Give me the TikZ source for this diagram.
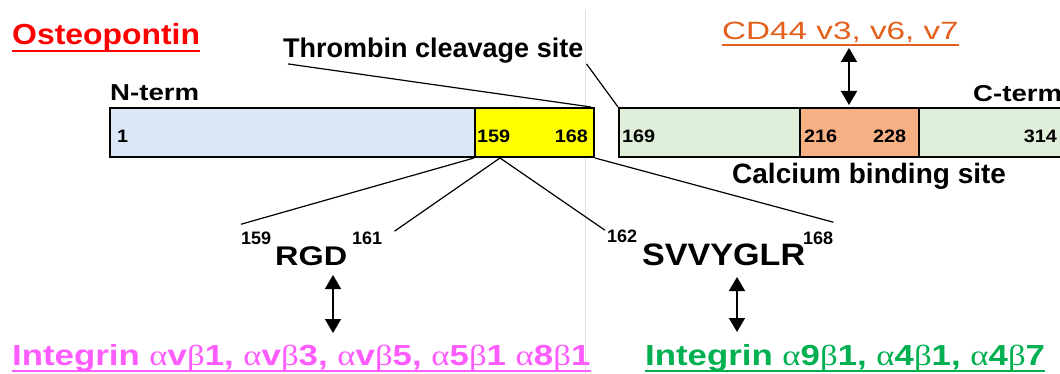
\documentclass[tikz,border=0pt]{standalone}
\usepackage{fontspec}
\setmainfont{Liberation Sans}
\newfontfamily\plainsans{Liberation Sans}
\newfontfamily\widesans{Liberation Sans}[FakeStretch=1.1]
\newfontfamily\widersans{Liberation Sans}[FakeStretch=1.2]
\newfontfamily\widestsans{Liberation Sans}[FakeStretch=1.33]
\newfontfamily\greekserif{Liberation Serif}[FakeStretch=1.2]
\newcommand{\alp}{{\greekserif\mdseries α}}
\newcommand{\bet}{{\greekserif\mdseries β}}
\usetikzlibrary{arrows.meta}

\definecolor{ntermblue}{HTML}{DAE8F6}
\definecolor{thrombyellow}{HTML}{FFFF00}
\definecolor{ctermgreen}{HTML}{E0EFDA}
\definecolor{calciumorange}{HTML}{F7B084}
\definecolor{titlered}{HTML}{FF0000}
\definecolor{cdorange}{HTML}{E2601C}
\definecolor{rgdpink}{HTML}{FF5CFF}
\definecolor{svgreen}{HTML}{00B050}

\begin{document}
\begin{tikzpicture}[
            x=1pt, y=-1pt,
            segment/.style={rectangle, draw=black, line width=2pt, anchor=north west, minimum height=49pt, inner sep=0pt},
            posnum/.style={inner sep=0pt, anchor=base west, font=\widesans\bfseries\fontsize{18}{18}\selectfont},
            supnum/.style={inner sep=0pt, anchor=base west, font=\plainsans\bfseries\fontsize{18}{18}\selectfont},
            term/.style={inner sep=0pt, anchor=base west, font=\widersans\bfseries\fontsize{23}{23}\selectfont},
            site/.style={inner sep=0pt, anchor=base west, font=\plainsans\bfseries\fontsize{27}{27}\selectfont},
            motif/.style={inner sep=0pt, anchor=base west, font=\widersans\bfseries\fontsize{27}{27}\selectfont},
            integrin/.style={inner sep=0pt, anchor=base west, font=\widersans\bfseries\fontsize{29}{29}\selectfont},
            thinline/.style={line width=1.2pt},
            uline/.style={line width=2.4pt},
            dblarrow/.style={{Triangle[width=16pt,length=14pt]}-{Triangle[width=16pt,length=14pt]}, line width=1.6pt},
        ]
            \useasboundingbox (0,0) rectangle (1060,374);
            \draw[gray!25, line width=0.8pt] (585,10) -- (585,374);

            %Segments
            \node[segment, fill=ntermblue, minimum width=365pt] (nseg) at (109,107) {};
            \node[segment, fill=thrombyellow, minimum width=119pt] (tseg) at (474,107) {};
            \node[segment, fill=ctermgreen, minimum width=446pt] (cseg) at (618,107) {};
            \node[segment, fill=calciumorange, minimum width=119pt] (caseg) at (799,107) {};

            \node[posnum] (p1) at (117,143) {1};
            \node[posnum] (p159) at (477,143) {159};
            \node[posnum, anchor=base east] (p168) at (588,143) {168};
            \node[posnum] (p169) at (622,143) {169};
            \node[posnum] (p216) at (804,143) {216};
            \node[posnum] (p228) at (873,143) {228};
            \node[posnum, anchor=base east] (p314) at (1057,143) {314};

            %Labels
            \node[inner sep=0pt, anchor=base west, text=titlered, font=\widesans\bfseries\fontsize{29}{29}\selectfont] (ost) at (12,45) {Osteopontin};
            \node[term] (nterm) at (110,101) {N-term};
            \node[term] (cterm) at (973,102) {C-term};
            \node[site] (thr) at (283,58) {Thrombin cleavage site};
            \node[site, font=\plainsans\bfseries\fontsize{28}{28}\selectfont] (cal) at (732,184) {Calcium binding site};
            \node[inner sep=0pt, anchor=base west, text=cdorange, font=\widestsans\fontsize{25}{25}\selectfont] (cd44) at (722,40) {CD44 v3, v6, v7};

            \node[supnum] (rgdl) at (241,244) {159};
            \node[motif] (rgd) at (275,265) {RGD};
            \node[supnum] (rgdr) at (352,244) {161};
            \node[supnum] (svl) at (607,243) {162};
            \node[motif, font=\widesans\bfseries\fontsize{31}{31}\selectfont] (svv) at (642,265) {SVVYGLR};
            \node[supnum] (svr) at (803,244) {168};

            \node[integrin, text=rgdpink] (intrgd) at (12,365) {Integrin \alp v\bet1, \alp v\bet3, \alp v\bet5, \alp5\bet1 \alp8\bet1};
            \node[integrin, text=svgreen] (intsv) at (645,365) {Integrin \alp9\bet1, \alp4\bet1, \alp4\bet7};

            \draw[uline, titlered] ([yshift=-6pt]ost.base west) -- ([yshift=-6pt]ost.base east);
            \draw[uline, cdorange] ([yshift=-5pt]cd44.base west) -- ([yshift=-5pt]cd44.base east);
            \draw[uline, rgdpink] ([yshift=-6pt]intrgd.base west) -- ([yshift=-6pt]intrgd.base east);
            \draw[uline, svgreen] ([yshift=-6pt]intsv.base west) -- ([yshift=-6pt]intsv.base east);

            %Lines
            \draw[thinline] ([xshift=5pt]thr.south west) -- ([xshift=-4pt]tseg.north east);
            \draw[thinline] ([xshift=3pt]thr.south east) -- (cseg.north west);
            \draw[thinline] (tseg.south west) -- ([yshift=7pt]rgdl.north west);
            \draw[thinline] ([xshift=26pt]tseg.south west) -- ([xshift=12pt]rgdr.north east);
            \draw[thinline] ([xshift=26pt]tseg.south west) -- ([xshift=-2pt]svl.north west);
            \draw[thinline] (tseg.south east) -- ([yshift=9pt]svr.north east);

            %Arrows
            \coordinate (cdtop) at (849,48);
            \coordinate (cdbot) at (849,105);
            \coordinate (rgdtop) at (333,275);
            \coordinate (rgdbot) at (333,333);
            \coordinate (svtop) at (737,277);
            \coordinate (svbot) at (737,332);
            \draw[dblarrow] (cdtop) -- (cdbot);
            \draw[dblarrow] (rgdtop) -- (rgdbot);
            \draw[dblarrow] (svtop) -- (svbot);
        \end{tikzpicture}
\end{document}
